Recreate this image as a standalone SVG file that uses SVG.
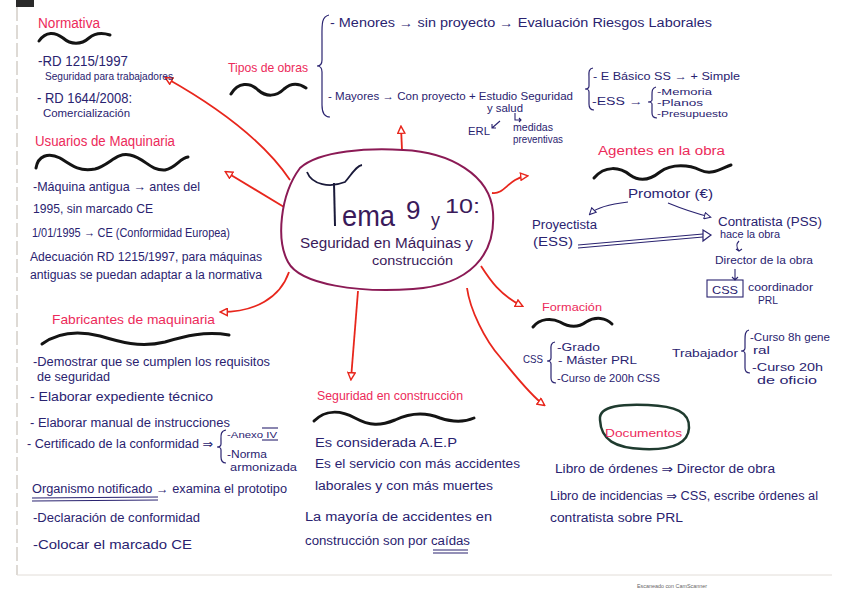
<svg xmlns="http://www.w3.org/2000/svg" width="848" height="599" viewBox="0 0 848 599">
<style>
text{font-family:"Liberation Sans","DejaVu Sans",sans-serif;fill:#2a2370}
.h{fill:#ec2a5a}
.w{fill:none;stroke:#141414;stroke-width:3;stroke-linecap:round}
.br{fill:none;stroke:#2a2370;stroke-width:1.2}
.rl{fill:none;stroke:#e8261c;stroke-width:1.8;marker-end:url(#ra)}
.nl{fill:none;stroke:#2a2370;stroke-width:1.1}
.cen{fill:#3a1a5a}
</style>
<defs>
<marker id="ra" viewBox="0 0 10 10" refX="8" refY="5" markerWidth="9" markerHeight="9" markerUnits="userSpaceOnUse" orient="auto">
<path d="M1,1 L9,5 L1,9 Z" fill="#fff" stroke="#e8261c" stroke-width="1.6"/>
</marker>
<marker id="na" viewBox="0 0 10 10" refX="8" refY="5" markerWidth="8" markerHeight="8" markerUnits="userSpaceOnUse" orient="auto">
<path d="M1,1 L9,5 L1,9 Z" fill="#fff" stroke="#2a2370" stroke-width="1.3"/>
</marker>
</defs>
<rect width="848" height="599" fill="#fff"/>
<rect x="16" y="0" width="18" height="7" fill="#2a2a2a"/>
<line x1="17" y1="7" x2="17" y2="575" stroke="#c9c2ba" stroke-width="1.2" stroke-dasharray="14 4"/>
<line x1="17" y1="575" x2="832" y2="575" stroke="#e2ddd8" stroke-width="1"/>
<text x="637" y="588" font-size="6" style="fill:#666" textLength="70" lengthAdjust="spacingAndGlyphs">Escaneado con CamScanner</text>

<g id="connectors">
<path class="rl" d="M290,180 Q255,128 166,78"/>
<path class="rl" d="M284,207 L226,172"/>
<path class="rl" d="M289,272 C280,298 255,312 221,312"/>
<path class="rl" d="M402,150 L401,127"/>
<path class="rl" d="M492,193 C505,195 508,178 527,176"/>
<path class="rl" d="M481,266 C490,280 500,295 522,306"/>
<path class="rl" d="M467,288 C470,310 485,340 500,357 C515,375 530,395 544,405"/>
<path class="rl" d="M358,291 L351,379"/>
</g>

<g id="central">
<path d="M403,150 C450,152 490,175 493,212 C496,255 470,285 413,289 C360,293 300,285 288,262 C276,240 280,195 300,168 C320,150 370,148 403,150 Z" fill="#fff" stroke="#8b1a55" stroke-width="2"/>
<path d="M307,172 C312,185 330,188 345,182 C352,174 356,166 362,165" fill="none" stroke="#1a1a3a" stroke-width="1.8"/>
<line x1="334" y1="183" x2="335" y2="226" stroke="#1a1a3a" stroke-width="2"/>
<text x="342" y="226" font-size="30" class="cen" textLength="53" lengthAdjust="spacingAndGlyphs">ema</text>
<text x="406" y="219" font-size="26" class="cen">9</text>
<text x="431" y="226" font-size="18" class="cen">y</text>
<text x="445" y="213" font-size="21" class="cen" textLength="35" lengthAdjust="spacingAndGlyphs">10:</text>
<text x="300" y="248" font-size="14" class="cen" textLength="173" lengthAdjust="spacingAndGlyphs">Seguridad en Máquinas y</text>
<text x="372" y="265" font-size="13" class="cen" textLength="81" lengthAdjust="spacingAndGlyphs">construcción</text>
</g>

<g id="normativa">
<text class="h" x="38" y="28" font-size="14" textLength="62" lengthAdjust="spacingAndGlyphs">Normativa</text>
<path class="w" d="M39,41 C46,31 55,32 63,38 C71,45 81,45 89,38 C96,32 104,33 110,35"/>
<text x="38" y="66" font-size="14" textLength="90" lengthAdjust="spacingAndGlyphs">-RD 1215/1997</text>
<text x="45" y="80" font-size="11" textLength="128" lengthAdjust="spacingAndGlyphs">Seguridad para trabajadores</text>
<text x="37" y="103" font-size="14" textLength="95" lengthAdjust="spacingAndGlyphs">- RD 1644/2008:</text>
<text x="43" y="117" font-size="11" textLength="87" lengthAdjust="spacingAndGlyphs">Comercialización</text>
</g>

<g id="usuarios">
<text class="h" x="35" y="146" font-size="14" textLength="140" lengthAdjust="spacingAndGlyphs">Usuarios de Maquinaria</text>
<path class="w" d="M36,168 C38,156 48,152 60,158 C72,166 80,172 95,169 C110,165 116,152 130,155 C145,158 150,171 165,170 C176,168 180,158 188,157"/>
<text x="33" y="191" font-size="13" textLength="167" lengthAdjust="spacingAndGlyphs">-Máquina antigua → antes del</text>
<text x="33" y="213" font-size="13" textLength="120" lengthAdjust="spacingAndGlyphs">1995, sin marcado CE</text>
<text x="32" y="237" font-size="13" textLength="198" lengthAdjust="spacingAndGlyphs">1/01/1995 → CE (Conformidad Europea)</text>
<text x="30" y="261" font-size="12" textLength="232" lengthAdjust="spacingAndGlyphs">Adecuación RD 1215/1997, para máquinas</text>
<text x="30" y="279" font-size="12" textLength="232" lengthAdjust="spacingAndGlyphs">antiguas se puedan adaptar a la normativa</text>
</g>

<g id="fabricantes">
<text class="h" x="52" y="324" font-size="13" textLength="163" lengthAdjust="spacingAndGlyphs">Fabricantes de maquinaria</text>
<path class="w" d="M42,344 C60,331 80,331 100,336 C120,342 140,348 165,342 C185,336 205,331 229,335"/>
<text x="33" y="366" font-size="12" textLength="237" lengthAdjust="spacingAndGlyphs">-Demostrar que se cumplen los requisitos</text>
<text x="37" y="381" font-size="12" textLength="73" lengthAdjust="spacingAndGlyphs">de seguridad</text>
<text x="30" y="401" font-size="13" textLength="183" lengthAdjust="spacingAndGlyphs">- Elaborar expediente técnico</text>
<text x="30" y="427" font-size="12" textLength="200" lengthAdjust="spacingAndGlyphs">- Elaborar manual de instrucciones</text>
<text x="27" y="448" font-size="12" textLength="186" lengthAdjust="spacingAndGlyphs">- Certificado de la conformidad ⇒</text>
<path class="br" d="M226,430 C220,431 221,436 221,441 L221,444 C221,446 219,447 217,447 C219,447 221,448 221,450 L221,457 C221,461 222,463 226,463"/>
<text x="227" y="438" font-size="9" textLength="50" lengthAdjust="spacingAndGlyphs">-Anexo IV</text>
<line x1="262" y1="428" x2="278" y2="428" class="nl"/>
<line x1="262" y1="440" x2="278" y2="440" class="nl"/>
<text x="227" y="458" font-size="10" textLength="40" lengthAdjust="spacingAndGlyphs">-Norma</text>
<text x="230" y="471" font-size="10" textLength="67" lengthAdjust="spacingAndGlyphs">armonizada</text>
<text x="32" y="493" font-size="12" textLength="255" lengthAdjust="spacingAndGlyphs">Organismo notificado → examina el prototipo</text>
<line x1="32" y1="498" x2="158" y2="497" class="nl"/>
<line x1="32" y1="501" x2="158" y2="500" class="nl"/>
<text x="33" y="522" font-size="12" textLength="167" lengthAdjust="spacingAndGlyphs">-Declaración de conformidad</text>
<text x="33" y="549" font-size="13" textLength="159" lengthAdjust="spacingAndGlyphs">-Colocar el marcado CE</text>
</g>

<g id="tipos">
<text class="h" x="228" y="72" font-size="13" textLength="80" lengthAdjust="spacingAndGlyphs">Tipos de obras</text>
<path class="w" d="M231,94 C238,82 250,82 258,90 C266,97 276,97 284,89 C292,82 300,84 306,88"/>
<path class="br" d="M329,15 C321,17 322,25 322,40 L322,60 C322,64 320,66 317,66 C320,66 322,68 322,72 L322,105 C322,113 324,117 330,117"/>
<text x="330" y="27" font-size="12" textLength="382" lengthAdjust="spacingAndGlyphs">- Menores → sin proyecto → Evaluación Riesgos Laborales</text>
<text x="328" y="100" font-size="11" textLength="245" lengthAdjust="spacingAndGlyphs">- Mayores → Con proyecto + Estudio Seguridad</text>
<text x="487" y="112" font-size="11" textLength="36" lengthAdjust="spacingAndGlyphs">y salud</text>
<text x="468" y="135" font-size="11" textLength="22" lengthAdjust="spacingAndGlyphs">ERL</text>
<path class="nl" d="M500,121 L492,128 M492,124 L492,128 L496,128"/>
<path class="nl" d="M515,113 L515,120 L521,120 M519,118 L521,120 L519,122"/>
<text x="513" y="131" font-size="10" textLength="40" lengthAdjust="spacingAndGlyphs">medidas</text>
<text x="513" y="143" font-size="10" textLength="50" lengthAdjust="spacingAndGlyphs">preventivas</text>
<path class="br" d="M593,68 C588,69 589,73 589,78 L589,86 C589,88 587,89 585,89 C587,89 589,90 589,92 L589,104 C589,108 590,110 594,110"/>
<text x="593" y="80" font-size="11" textLength="147" lengthAdjust="spacingAndGlyphs">- E Básico SS → + Simple</text>
<text x="592" y="105" font-size="11" textLength="51" lengthAdjust="spacingAndGlyphs">-ESS →</text>
<path class="br" d="M656,87 C652,88 652,91 652,95 L652,100 C652,101 650,102 648,102 C650,102 652,103 652,104 L652,113 C652,116 653,118 657,118"/>
<text x="657" y="95" font-size="9" textLength="55" lengthAdjust="spacingAndGlyphs">-Memoria</text>
<text x="657" y="106" font-size="9" textLength="46" lengthAdjust="spacingAndGlyphs">-Planos</text>
<text x="657" y="117" font-size="9" textLength="71" lengthAdjust="spacingAndGlyphs">-Presupuesto</text>
</g>

<g id="agentes">
<text class="h" x="598" y="155" font-size="12" textLength="127" lengthAdjust="spacingAndGlyphs">Agentes en la obra</text>
<path class="w" d="M594,178 C605,165 620,167 630,175 C640,182 650,180 660,172 C672,163 690,165 700,170 C712,176 722,168 731,165"/>
<text x="628" y="198" font-size="12" textLength="85" lengthAdjust="spacingAndGlyphs">Promotor (€)</text>
<path class="nl" marker-end="url(#na)" d="M628,202 C610,204 597,207 590,214"/>
<path class="nl" marker-end="url(#na)" d="M668,203 C685,210 698,214 710,217"/>
<text x="532" y="229" font-size="12" textLength="65" lengthAdjust="spacingAndGlyphs">Proyectista</text>
<text x="533" y="246" font-size="12" textLength="40" lengthAdjust="spacingAndGlyphs">(ESS)</text>
<path class="nl" d="M578,245 L703,234 M578,248 L703,237"/>
<path d="M703,230 L711,235 L703,241 Z" fill="#fff" stroke="#2a2370" stroke-width="1.2"/>
<text x="718" y="226" font-size="12" textLength="104" lengthAdjust="spacingAndGlyphs">Contratista (PSS)</text>
<text x="720" y="238" font-size="10" textLength="60" lengthAdjust="spacingAndGlyphs">hace la obra</text>
<path class="nl" d="M739,241 C736,244 736,247 739,251 M736,249 L739,251 L742,249"/>
<text x="715" y="264" font-size="11" textLength="98" lengthAdjust="spacingAndGlyphs">Director de la obra</text>
<path class="nl" d="M735,269 L735,280 M732,277 L735,280 L738,277"/>
<rect x="707" y="280" width="36" height="17" fill="none" stroke="#2a2370" stroke-width="1.1"/>
<text x="712" y="294" font-size="11" textLength="26" lengthAdjust="spacingAndGlyphs">CSS</text>
<text x="748" y="291" font-size="10" textLength="65" lengthAdjust="spacingAndGlyphs">coordinador</text>
<text x="758" y="304" font-size="10" textLength="20" lengthAdjust="spacingAndGlyphs">PRL</text>
</g>

<g id="formacion">
<text class="h" x="542" y="311" font-size="11" textLength="60" lengthAdjust="spacingAndGlyphs">Formación</text>
<path class="w" d="M533,327 C540,318 552,318 560,322 C570,328 578,328 586,322 C596,316 606,318 612,324"/>
<text x="523" y="363" font-size="11" textLength="20" lengthAdjust="spacingAndGlyphs">CSS</text>
<path class="br" d="M555,342 C550,343 551,347 551,352 L551,358 C551,360 549,361 547,361 C549,361 551,362 551,364 L551,378 C551,381 552,383 556,383"/>
<text x="557" y="351" font-size="11" textLength="43" lengthAdjust="spacingAndGlyphs">-Grado</text>
<text x="558" y="364" font-size="11" textLength="79" lengthAdjust="spacingAndGlyphs">- Máster PRL</text>
<text x="557" y="382" font-size="11" textLength="103" lengthAdjust="spacingAndGlyphs">-Curso de 200h CSS</text>
<text x="672" y="357" font-size="11" textLength="66" lengthAdjust="spacingAndGlyphs">Trabajador</text>
<path class="br" d="M749,330 C745,331 745,335 745,340 L745,348 C745,350 743,351 741,351 C743,351 745,352 745,354 L745,368 C745,371 746,373 750,373"/>
<text x="750" y="341" font-size="11" textLength="80" lengthAdjust="spacingAndGlyphs">-Curso 8h gene</text>
<text x="753" y="354" font-size="11" textLength="17" lengthAdjust="spacingAndGlyphs">ral</text>
<text x="752" y="371" font-size="11" textLength="71" lengthAdjust="spacingAndGlyphs">-Curso 20h</text>
<text x="757" y="384" font-size="11" textLength="60" lengthAdjust="spacingAndGlyphs">de oficio</text>
</g>

<g id="documentos">
<path d="M600,420 C598,405 625,404 648,405 C675,406 690,412 689,428 C688,445 668,450 643,449 C615,448 601,440 600,420 Z" fill="none" stroke="#1f3b2f" stroke-width="2.5"/>
<text class="h" x="605" y="437" font-size="11" textLength="77" lengthAdjust="spacingAndGlyphs">Documentos</text>
<text x="555" y="473" font-size="12" textLength="220" lengthAdjust="spacingAndGlyphs">Libro de órdenes ⇒ Director de obra</text>
<text x="550" y="500" font-size="12" textLength="268" lengthAdjust="spacingAndGlyphs">Libro de incidencias ⇒ CSS, escribe órdenes al</text>
<text x="550" y="522" font-size="12" textLength="133" lengthAdjust="spacingAndGlyphs">contratista sobre PRL</text>
</g>

<g id="seguridad-construccion">
<text class="h" x="317" y="400" font-size="12" textLength="146" lengthAdjust="spacingAndGlyphs">Seguridad en construcción</text>
<path class="w" d="M314,421 C325,410 340,410 355,418 C370,426 380,426 395,420 C410,413 425,412 440,418 C455,423 465,422 474,418"/>
<text x="315" y="447" font-size="12" textLength="142" lengthAdjust="spacingAndGlyphs">Es considerada  A.E.P</text>
<text x="315" y="468" font-size="12" textLength="205" lengthAdjust="spacingAndGlyphs">Es el servicio con más accidentes</text>
<text x="315" y="490" font-size="12" textLength="178" lengthAdjust="spacingAndGlyphs">laborales y con más muertes</text>
<text x="305" y="521" font-size="12" textLength="187" lengthAdjust="spacingAndGlyphs">La mayoría de accidentes en</text>
<text x="305" y="545" font-size="12" textLength="165" lengthAdjust="spacingAndGlyphs">construcción son por caídas</text>
<line x1="433" y1="550" x2="468" y2="550" class="nl"/>
<line x1="433" y1="553" x2="468" y2="553" class="nl"/>
</g>
</svg>
